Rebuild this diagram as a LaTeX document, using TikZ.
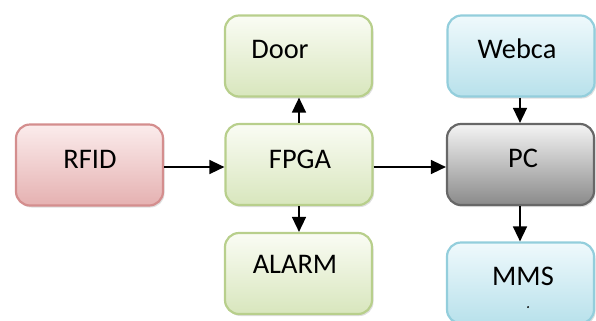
\documentclass[tikz,border=0pt]{standalone}
\usepackage{fontspec}
\setmainfont{Carlito}
\usetikzlibrary{arrows.meta,shadows}
\definecolor{pinkTop}{HTML}{FBECEC}
\definecolor{pinkBot}{HTML}{E5B1B1}
\definecolor{pinkLine}{HTML}{D48E8E}
\definecolor{greenTop}{HTML}{FAFCF4}
\definecolor{greenBot}{HTML}{D8E6BD}
\definecolor{greenLine}{HTML}{B8CF8C}
\definecolor{blueTop}{HTML}{EFF9FC}
\definecolor{blueBot}{HTML}{B8E1EB}
\definecolor{blueLine}{HTML}{93CEDC}
\definecolor{grayTop}{HTML}{F4F4F4}
\definecolor{grayBot}{HTML}{8A8A8A}
\definecolor{grayLine}{HTML}{676767}
\tikzset{
  blockbox/.style={rounded corners=14bp, line width=2.2bp,
    minimum width=147bp, minimum height=81bp, inner sep=0pt,
    drop shadow={opacity=0.25, shadow xshift=1.5bp, shadow yshift=-2bp}},
  redbox/.style={blockbox, draw=pinkLine, top color=pinkTop, bottom color=pinkBot},
  greenbox/.style={blockbox, draw=greenLine, top color=greenTop, bottom color=greenBot},
  bluebox/.style={blockbox, draw=blueLine, top color=blueTop, bottom color=blueBot},
  graybox/.style={blockbox, draw=grayLine, top color=grayTop, bottom color=grayBot},
  lbl/.style={anchor=base, inner sep=0pt, font=\fontsize{28.5}{30}\selectfont,
    text=black, draw=none},
  link/.style={line width=1.5bp, -{Triangle[width=14bp,length=15bp]}}
}
\begin{document}
\begin{tikzpicture}[x=1bp,y=-1bp]
\useasboundingbox (0,0) rectangle (596,320);
\begin{scope}
\clip (0,0) rectangle (596,320);
% blocks
\node[redbox]   (rfid)  at (89.5,165)  {};
\node[greenbox] (door)  at (298.5,56)  {};
\node[greenbox] (fpga)  at (299,164.5) {};
\node[greenbox] (alarm) at (298.5,273.5) {};
\node[bluebox]  (webca) at (521,56)    {};
\node[graybox]  (pc)    at (520.5,164.5) {};
\node[bluebox]  (mms)   at (520.5,283) {};
% labels
\node[lbl] (rfidt)  at (90,168)  {RFID};
\node[lbl] (doort)  at (280,58)  {Door};
\node[lbl] (fpgat)  at (300,168) {FPGA};
\node[lbl] (alarmt) at (295,273) {ALARM};
\node[lbl] (webcat) at (517,58)  {Webca};
\node[lbl] (pct)    at (523,167) {PC};
\node[lbl] (mmst)   at (523,285) {MMS};
\fill (528,307) circle (1bp);
% connectors
\draw[link] (rfid.east |- 0,167) -- (fpga.west |- 0,167);
\draw[link] (fpga.east |- 0,167) -- (pc.west |- 0,167);
\draw[link] (fpga.north -| 299,0) -- (door.south -| 299,0);
\draw[link] (fpga.south -| 299,0) -- (alarm.north -| 299,0);
\draw[link] (webca.south -| 520,0) -- (pc.north -| 520,0);
\draw[link] (pc.south -| 520,0) -- (mms.north -| 520,0);
\end{scope}
\end{tikzpicture}
\end{document}
